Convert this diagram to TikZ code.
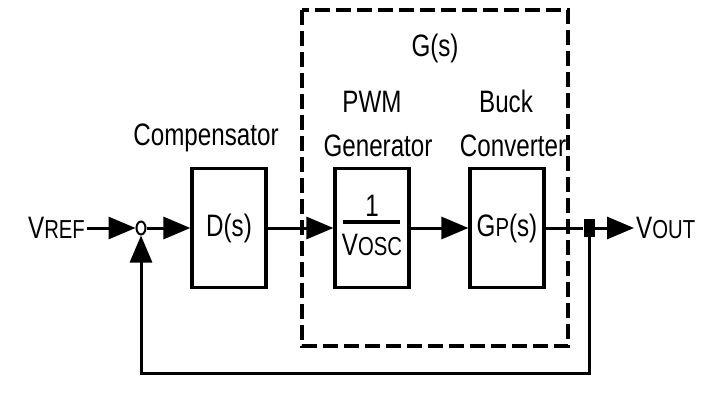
\documentclass[tikz,border=0pt]{standalone}
\usepackage{graphicx}
\usepackage{fontspec}
\setmainfont{Liberation Sans}
\usetikzlibrary{arrows.meta,shapes.geometric}

\newcommand{\bigtxt}{\fontsize{31}{36}\selectfont}
\newcommand{\smalltxt}{\fontsize{26}{30}\selectfont}
\newcommand{\nar}[1]{\scalebox{0.78}[1]{#1}}

\tikzset{
  blk/.style={draw, line width=3.2pt, minimum width=74pt, minimum height=119pt, inner sep=0pt, font=\bigtxt},
  lbl/.style={font=\bigtxt, inner sep=2pt},
  sig/.style={line width=3pt, -{Triangle[length=27pt,width=22pt]}},
  wire/.style={line width=3pt},
  sumc/.style={draw, ellipse, line width=2pt, minimum width=9pt, minimum height=13pt, inner sep=0pt},
  tapbox/.style={fill, minimum width=11pt, minimum height=17pt, inner sep=0pt}
}

\begin{document}
\begin{tikzpicture}[x=1pt,y=-1pt]
        \useasboundingbox (0,0) rectangle (711,403);

        % G(s) frame
        \draw [line width=3.2pt, dash pattern=on 15pt off 6pt] (302,10) rectangle (568,346);

        % blocks
        \node [sumc] (sum) at (141,228) {};
        \node [blk] (comp) at (229,228) {\nar{D(s)}};
        \node [blk] (pwm) at (372,228) {};
        \node [blk] (buck) at (507,228) {\nar{G{\smalltxt P}(s)}};
        \node [tapbox] (tap) at (589,228) {};

        % 1/Vosc
        \node [lbl, anchor=base] (one) at (372,217) {\nar{1}};
        \node [lbl, anchor=base] (vosc) at (372,255) {\nar{V{\smalltxt OSC}}};
        \draw [wire] (343,222) -- (400,222);

        % lecter
        \node [lbl, anchor=west] (vref) at (26,228) {\nar{V{\smalltxt REF}}};
        \node [lbl, anchor=west] (vout) at (634,228) {\nar{V{\smalltxt OUT}}};
        \node [lbl, anchor=base] (lcomp) at (206,146) {\nar{Compensator}};
        \node [lbl, anchor=base] (lpwm) at (372,113) {\nar{PWM}};
        \node [lbl, anchor=base] (lgen) at (378,157) {\nar{Generator}};
        \node [lbl, anchor=base] (lbuck) at (506,113) {\nar{Buck}};
        \node [lbl, anchor=base] (lconv) at (513,157) {\nar{Converter}};
        \node [lbl, anchor=base] (lgs) at (435,57) {\nar{G(s)}};

        % signal path
        \draw [sig] (vref) -- (sum);
        \draw [sig] (sum) -- (comp);
        \draw [sig] (comp) -- (pwm);
        \draw [sig] (pwm) -- (buck);
        \draw [wire] (buck) -- (tap);
        \draw [sig] (tap) -- (vout);

        % feedback
        \coordinate (fb) at (589,373);
        \draw [sig] (tap) -- (fb) -| (sum);
    \end{tikzpicture}
\end{document}
